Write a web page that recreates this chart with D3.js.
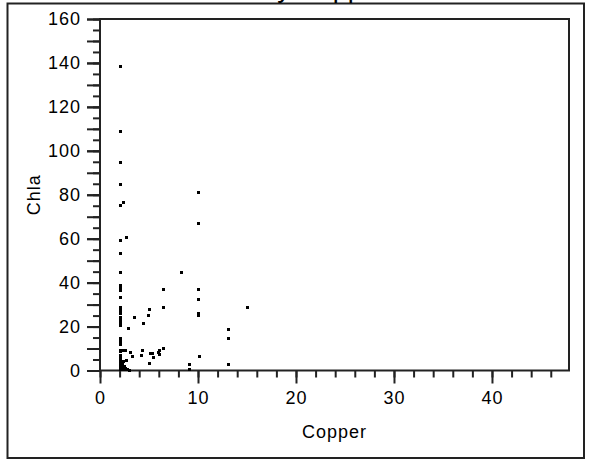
<!DOCTYPE html>
<html>
<head>
<meta charset="utf-8">
<script src="https://cdn.jsdelivr.net/npm/d3@7"></script>
<style>
  html, body { margin: 0; padding: 0; background: #fff; }
  svg { display: block; }
  text { font-family: "Liberation Sans", Arial, sans-serif; fill: #000; }
</style>
</head>
<body>
<svg id="chart" width="591" height="462"></svg>
<script>
// Copper (x) and Chla (y) observations
const copper = [
  2, 2, 2, 2, 2, 2, 2, 2, 2, 2, 2, 2, 2, 2, 2, 2, 2, 2,
  2, 2, 2, 2, 2, 2, 2, 2, 2, 2, 2, 2, 2, 2, 2, 2, 2,
  2.3, 2.65, 2.3, 2.6, 2.9, 3.5, 4.42, 4.86, 5.05, 6.46, 6.46, 8.3,
  10.03, 10.03, 10.03, 10.03, 10.03, 10.03, 10.1,
  13.06, 13.06, 13.06, 15.03, 9.08, 9.08,
  3.06, 3.3, 2.65, 4.15, 4.3, 5.1, 5.27, 5.44, 5.03, 5.95, 6.05, 6.46, 6.0,
  2.2, 2.4, 2.6, 2.8, 3.0, 2.2, 2.4, 2.6, 2.2, 2.4, 2.2, 2.3
];
const chla = [
  138.5, 109, 95, 85, 75.5, 59.4, 53.3, 45, 39, 38, 37, 36.5, 33.3, 29, 28, 27, 26, 24.5,
  23, 22, 20.7, 15, 14, 13, 12, 9.5, 9, 7, 6, 5, 4, 3, 2, 1, 0.5,
  76.5, 60.9, 9.3, 9.2, 19.2, 24.5, 21.8, 25.3, 27.9, 37, 29, 44.8,
  81.4, 67.1, 37, 32.4, 26, 25.2, 6.6,
  19, 14.6, 3, 29, 3, 0.6,
  8.6, 6.6, 4.8, 7, 9.3, 8.1, 7.8, 6, 3.2, 8.6, 9.5, 10.1, 7.4,
  0.5, 0.5, 0.5, 0.5, 0.4, 1.5, 1.2, 1.0, 2.5, 2.2, 3.5, 4.5
];

// Axis tick values
const xMajorTicks = [0, 10, 20, 30, 40];
const xMinorTicks = d3.range(0, 48, 2);
const yMajorTicks = [0, 20, 40, 60, 80, 100, 120, 140, 160];
const yMidTicks = d3.range(0, 161, 10);
const yMinorTicks = d3.range(0, 161, 5);

const title = "Chla by Copper";
const xLabel = "Copper";
const yLabel = "Chla";

const svg = d3.select("#chart");
const plotLeft = 100, plotRight = 569, plotTop = 19, plotBottom = 370.5;

const x = d3.scaleLinear().domain([0, 47.86]).range([plotLeft, plotRight]);
const y = d3.scaleLinear().domain([0, 160]).range([plotBottom, plotTop]);

// outer frame
svg.append("rect")
  .attr("x", 7.5).attr("y", 3.5)
  .attr("width", 576.5).attr("height", 454.5)
  .attr("fill", "none").attr("stroke", "#222").attr("stroke-width", 2);

// title, mostly above the visible area
svg.append("text")
  .attr("x", 293).attr("y", -3)
  .attr("text-anchor", "middle")
  .style("font-size", "27px")
  .text(title);

const tickStyle = g => {
  g.select(".domain").remove();
  g.selectAll(".tick line").attr("stroke", "#222").attr("stroke-width", 2);
};

// x axis ticks
svg.append("g")
  .attr("transform", `translate(0,${plotBottom})`)
  .call(d3.axisBottom(x).tickValues(xMinorTicks).tickSize(7).tickFormat(""))
  .call(tickStyle);
svg.append("g")
  .attr("transform", `translate(0,${plotBottom})`)
  .call(d3.axisBottom(x).tickValues(xMajorTicks).tickSize(13).tickPadding(8).tickFormat(d3.format("d")))
  .call(tickStyle)
  .call(g => g.selectAll("text").style("font-size", "18px").style("letter-spacing", "1px").attr("fill", "#000"));

// y axis ticks
svg.append("g")
  .attr("transform", `translate(${plotLeft},0)`)
  .call(d3.axisLeft(y).tickValues(yMinorTicks).tickSize(7).tickFormat(""))
  .call(tickStyle);
svg.append("g")
  .attr("transform", `translate(${plotLeft},0)`)
  .call(d3.axisLeft(y).tickValues(yMidTicks).tickSize(13).tickFormat(""))
  .call(tickStyle);
svg.append("g")
  .attr("transform", `translate(${plotLeft},0)`)
  .call(d3.axisLeft(y).tickValues(yMajorTicks).tickSize(13).tickPadding(6).tickFormat(d3.format("d")))
  .call(tickStyle)
  .call(g => g.selectAll("text").style("font-size", "18px").style("letter-spacing", "1px").attr("fill", "#000"));

// plot box
svg.append("rect")
  .attr("x", plotLeft).attr("y", plotTop)
  .attr("width", plotRight - plotLeft).attr("height", plotBottom - plotTop)
  .attr("fill", "none").attr("stroke", "#222").attr("stroke-width", 2);

// axis titles
svg.append("text")
  .attr("x", (plotLeft + plotRight) / 2).attr("y", 438)
  .attr("text-anchor", "middle")
  .style("font-size", "18px").style("letter-spacing", "1px")
  .text(xLabel);
svg.append("text")
  .attr("transform", `translate(40,${(plotTop + plotBottom) / 2}) rotate(-90)`)
  .attr("text-anchor", "middle")
  .style("font-size", "18px").style("letter-spacing", "1px")
  .text(yLabel);

// points as crisp 3x3 squares
const pts = copper.map((c, i) => ({ c, v: chla[i] }));
svg.append("g")
  .attr("shape-rendering", "crispEdges")
  .selectAll("rect")
  .data(pts)
  .join("rect")
  .attr("x", d => Math.round(x(d.c)) - 1)
  .attr("y", d => Math.round(y(d.v)) - 1)
  .attr("width", 3).attr("height", 3)
  .attr("fill", "#000");
</script>
</body>
</html>
